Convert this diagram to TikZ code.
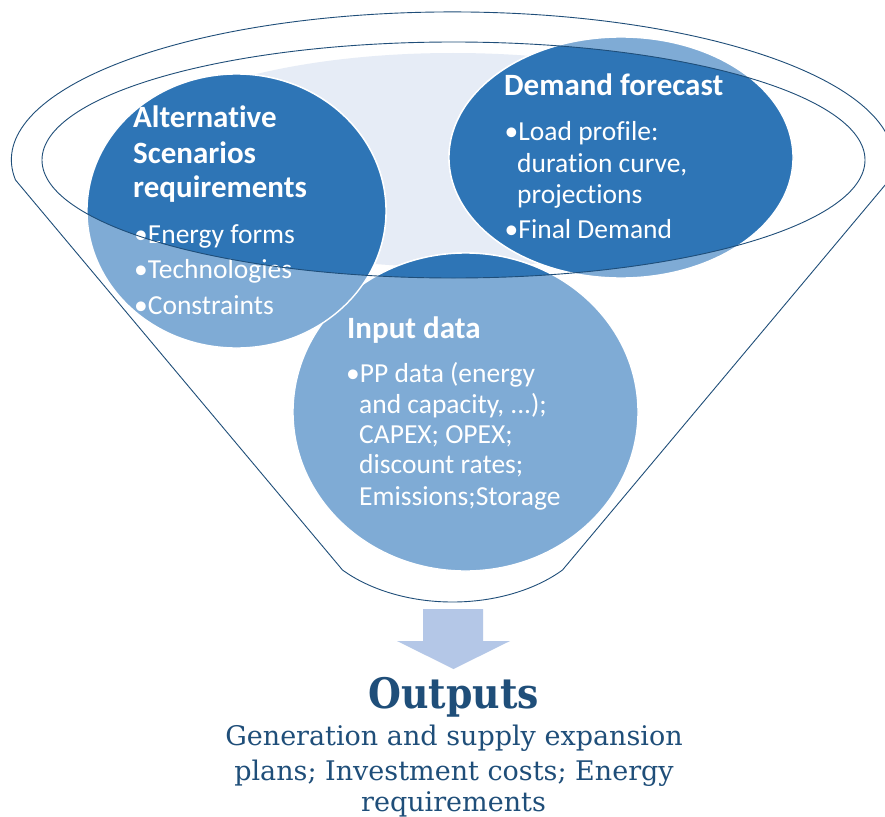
\documentclass[tikz,border=0pt]{standalone}
\usepackage{fontspec}
\setmainfont{Carlito}[Ligatures=NoCommon]
\newfontfamily\outfont{DejaVu Serif}
\newfontfamily\outboldfont{DejaVu Serif}[FakeStretch=0.9]
\definecolor{deepblue}{HTML}{2E75B6}
\definecolor{paleblue}{HTML}{7FABD5}
\definecolor{mistblue}{HTML}{E6ECF6}
\definecolor{arrowblue}{HTML}{B4C7E7}
\definecolor{navy}{HTML}{1F4E79}
\begin{document}
\begin{tikzpicture}[x=1pt,y=1pt,yscale=-1,
  funnel/.style={draw=navy,line width=0.9pt},
  bubble/.style={draw=white,line width=1.4pt},
  head/.style={text=white,anchor=base west,inner sep=0pt,font=\fontsize{31}{36}\selectfont\bfseries},
  item/.style={text=white,anchor=base west,inner sep=0pt,font=\fontsize{27.5}{32}\selectfont},
  outtitle/.style={text=navy,anchor=base,inner sep=0pt,font=\outboldfont\fontsize{42}{48}\selectfont\bfseries},
  outline/.style={text=navy,anchor=base,inner sep=0pt,font=\outfont\fontsize{27}{32}\selectfont}]
\useasboundingbox (0,0) rectangle (885,816);
\fill[white] (0,0) rectangle (885,816);

% pale interior of the funnel mouth
\fill[mistblue] (453,160) ellipse [x radius=330, y radius=107];

% the three bubbles, pale where they hang below the mouth
\path[bubble,fill=paleblue] (465.5,412) ellipse [x radius=172.5, y radius=159];
\path[bubble,fill=paleblue] (236.5,211) ellipse [x radius=149.5, y radius=137];
\path[bubble,fill=paleblue] (621,157.5) ellipse [x radius=172, y radius=120.5];

% deeper shade inside the mouth ellipse
\begin{scope}
  \clip (453.5,160) ellipse [x radius=411.5, y radius=118];
  \path[bubble,fill=deepblue] (465.5,412) ellipse [x radius=172.5, y radius=159];
  \path[bubble,fill=deepblue] (236.5,211) ellipse [x radius=149.5, y radius=137];
  \path[bubble,fill=deepblue] (621,157.5) ellipse [x radius=172, y radius=120.5];
\end{scope}

% bubble texts
\node[head] (alt1) at (133,127) {Alternative};
\node[head] (alt2) at (133,163) {Scenarios};
\node[head] (alt3) at (133,197) {requirements};
\node[item] (alt4) at (134,243) {•Energy forms};
\node[item] (alt5) at (134,278) {•Technologies};
\node[item] (alt6) at (134,314) {•Constraints};

\node[head] (dem1) at (504,95) {Demand forecast};
\node[item] (dem2) at (504.5,140) {•Load profile:};
\node[item] (dem3) at (517,172) {duration curve,};
\node[item] (dem4) at (517,203) {projections};
\node[item] (dem5) at (504.5,238) {•Final Demand};

\node[head] (inp1) at (347,338) {Input data};
\node[item] (inp2) at (346,382) {•PP data (energy};
\node[item] (inp3) at (359,413) {and capacity, ...);};
\node[item] (inp4) at (359,443) {CAPEX; OPEX;};
\node[item] (inp5) at (359,473) {discount rates;};
\node[item] (inp6) at (359,505) {Emissions;Storage};

% funnel outline and mouth rim
\draw[funnel] (15.5,180) arc[start angle=172.2, end angle=367.8, x radius=441, y radius=148]
  -- (562.5,570) .. controls (535,590) and (495,602) .. (452.5,602)
  .. controls (410,602) and (370,590) .. (342.5,570) -- cycle;
\draw[funnel] (453.5,160) ellipse [x radius=411.5, y radius=118];

% downward arrow
\fill[arrowblue] (423,609) -- (483,609) -- (483,641) -- (510,641) -- (453.5,669)
  -- (397,641) -- (423,641) -- cycle;

% outputs
\node[outtitle] (out0) at (453.5,708) {Outputs};
\node[outline] (out1) at (454,745) {Generation and supply expansion};
\node[outline] (out2) at (454,780) {plans; Investment costs; Energy};
\node[outline] (out3) at (453.5,811) {requirements};
\end{tikzpicture}
\end{document}
